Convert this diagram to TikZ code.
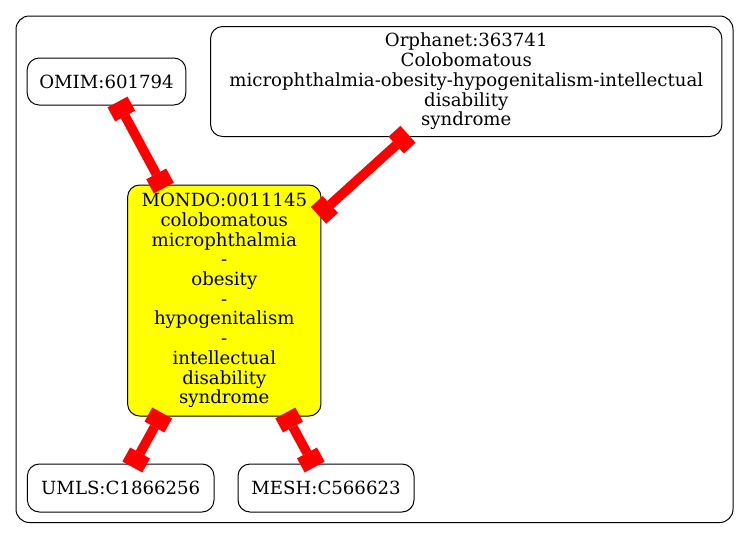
\documentclass[tikz,border=0pt]{standalone}
\usepackage{fontspec}
\setmainfont{DejaVu Serif}
\usepackage{xcolor}
\definecolor{hlyellow}{RGB}{255,255,0}
\definecolor{linkred}{RGB}{255,0,0}
\usetikzlibrary{arrows.meta}

\begin{document}
\begin{tikzpicture}[
  x=0.75pt, y=-0.75pt,
  term/.style={rectangle, rounded corners=9pt, draw, line width=0.75pt, align=center, inner sep=0pt, font=\fontsize{13.6pt}{14.8pt}\selectfont},
  focus/.style={term, fill=hlyellow},
  link/.style={{Square[length=12pt,width=17pt,line width=0pt]}-{Square[length=12pt,width=17pt,line width=0pt]}, linkred, line width=7.2pt, shorten <=-3pt, shorten >=-3pt}
]

\useasboundingbox (0,0) rectangle (749,539);
\draw[rounded corners=10pt, line width=0.75pt] (16,16) rectangle (733,522.5);

\node[term, minimum width=119pt, minimum height=35.25pt] (omim) at (106.5,81.5) {OMIM:601794};
\node[term, minimum width=383.5pt, minimum height=82.5pt] (orphanet) at (466.25,81.5) {Orphanet:363741\\Colobomatous\\microphthalmia-obesity-hypogenitalism-intellectual\\disability\\syndrome};
\node[focus, minimum width=145pt, minimum height=173.25pt] (mondo) at (224.3,300.5) {MONDO:0011145\\colobomatous\\microphthalmia\\-\\obesity\\-\\hypogenitalism\\-\\intellectual\\disability\\syndrome};
\node[term, minimum width=140pt, minimum height=36pt] (umls) at (120.7,488) {UMLS:C1866256};
\node[term, minimum width=132pt, minimum height=36pt] (mesh) at (326,488) {MESH:C566623};

\draw[link] (omim) -- (mondo);
\draw[link] (orphanet) -- (mondo);
\draw[link] (mondo) -- (umls);
\draw[link] (mondo) -- (mesh);

\end{tikzpicture}
\end{document}
